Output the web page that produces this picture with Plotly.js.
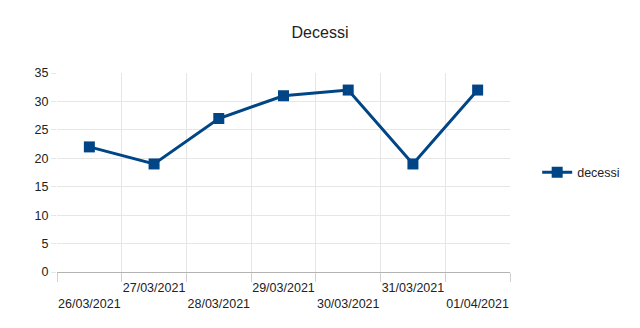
<!DOCTYPE html>
<html><head><meta charset="utf-8">
<script src="https://cdn.plot.ly/plotly-3.0.1.min.js"></script>
<style>html,body{margin:0;padding:0;background:#fff}</style>
</head><body>
<div id="chart" style="width:640px;height:328px"></div>
<script>
const dates = ["26/03/2021","27/03/2021","28/03/2021","29/03/2021","30/03/2021","31/03/2021","01/04/2021"];
const decessi = [22, 19, 27, 31, 32, 19, 32];
const seriesName = "decessi";
const chartTitle = "Decessi";
const yTicks = [0,5,10,15,20,25,30,35];

const idx = dates.map((d,i)=>i);
const boundaries = dates.map((d,i)=>i-0.5).concat([dates.length-0.5]);
const staggered = dates.map((d,i)=> i%2===0 ? "<br>"+d : d);

const font = {family:"Liberation Sans, Arial, sans-serif", size:12, color:"#222"};

Plotly.newPlot("chart", [{
  x: idx, y: decessi, name: seriesName, type:"scatter", mode:"lines+markers",
  line:{color:"#004586", width:3},
  marker:{symbol:"square", size:11, color:"#004586"}
},{
  x: idx, y: decessi, xaxis:"x2", showlegend:false, hoverinfo:"skip",
  mode:"markers", marker:{opacity:0}
}], {
  width:640, height:328,
  margin:{l:57, r:130, t:73, b:56},
  paper_bgcolor:"#fff", plot_bgcolor:"#fff",
  font: font,
  title:{text:chartTitle, font:{family:font.family, size:16, color:"#222"}, x:0.5, xref:"container", y:0.9, yanchor:"middle"},
  xaxis:{
    range:[-0.5, dates.length-0.5], tickmode:"array", tickvals:boundaries, showticklabels:false,
    showgrid:true, gridcolor:"#e6e6e6", gridwidth:1, zeroline:false,
    ticks:"outside", ticklen:9, tickcolor:"#d0d0d0", showline:true, linecolor:"#b3b3b3"
  },
  xaxis2:{
    overlaying:"x", range:[-0.5, dates.length-0.5], tickmode:"array", tickvals:idx, ticktext:staggered,
    showgrid:false, zeroline:false, ticks:"", side:"bottom", ticklabelstandoff:6,
    tickfont:{family:font.family, size:12.5, color:"#222"}
  },
  yaxis:{
    range:[0,35], tickmode:"array", tickvals:yTicks, showgrid:true, gridcolor:"#e6e6e6",
    zeroline:false, ticks:"outside", ticklen:5, tickcolor:"#e6e6e6", showline:false,
    tickfont:{family:font.family, size:12.5, color:"#222"}
  },
  legend:{x:1.06, y:0.5, yanchor:"middle", xanchor:"left", font:{family:font.family, size:12.5, color:"#222"}},
  showlegend:true
}, {staticPlot:true});
</script>
</body></html>
